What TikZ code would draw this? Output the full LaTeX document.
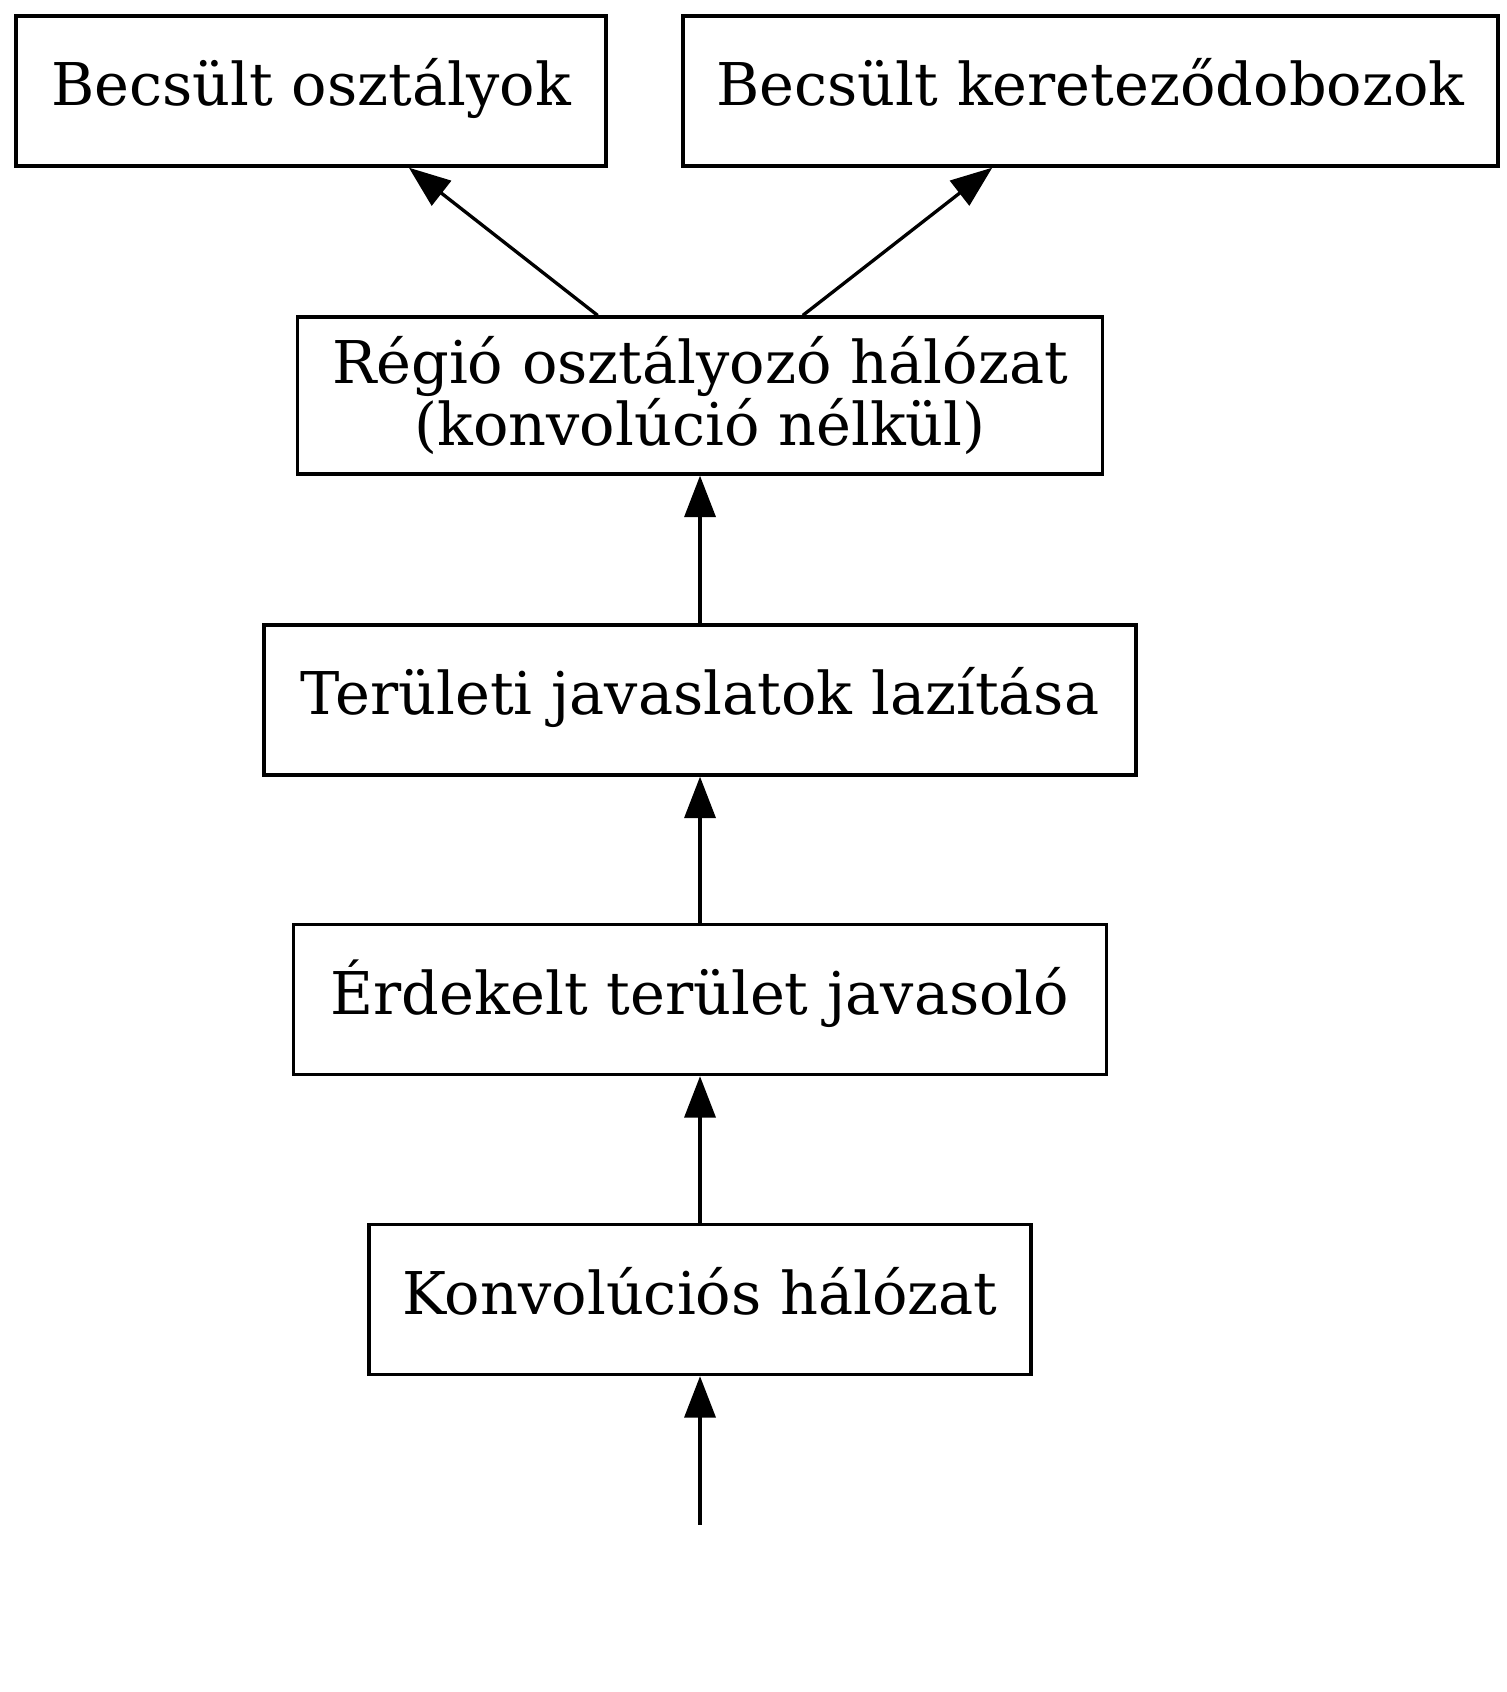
\documentclass[tikz,border=0pt]{standalone}
\usepackage{fontspec}
\setmainfont{DejaVu Serif}
\usetikzlibrary{arrows.meta,positioning}

\begin{document}
\begin{tikzpicture}[
    block/.style={draw, line width=0.8pt, minimum height=1.27cm, inner sep=0pt,
        font=\fontsize{14.2}{15}\selectfont, align=center},
    oneline/.style={block, text height=10.6pt, text depth=3.4pt},
    flow/.style={-{Triangle[length=10pt,width=7.5pt]}, line width=0.8pt}
]
    \useasboundingbox (0,0) rectangle (12.751,14.326);
    % outputs
    \node[oneline, minimum width=4.995cm] (classes) at (2.633,13.555) {Becsült osztályok};
    \node[oneline, minimum width=6.900cm] (boxes) at (9.233,13.555) {Becsült kereteződobozok};
    % pipeline
    \node[block, minimum width=6.816cm, minimum height=1.329cm] (roinet) at (5.927,10.977)
        {Régió osztályozó hálózat\\(konvolúció nélkül)};
    \node[oneline, minimum width=7.383cm] (relax) at (5.927,8.399) {Területi javaslatok lazítása};
    \node[oneline, minimum width=6.883cm] (proposer) at (5.927,5.863) {Érdekelt terület javasoló};
    \node[oneline, minimum width=5.605cm] (convnet) at (5.927,3.323) {Konvolúciós hálózat};
    \coordinate (input) at (5.927,1.414);
    % arrows
    \draw[flow] (input) -- (convnet);
    \draw[flow] (convnet) -- (proposer);
    \draw[flow] (proposer) -- (relax);
    \draw[flow] (relax) -- (roinet);
    \draw[flow] (roinet) -- (classes);
    \draw[flow] (roinet) -- (boxes);
\end{tikzpicture}
\end{document}
